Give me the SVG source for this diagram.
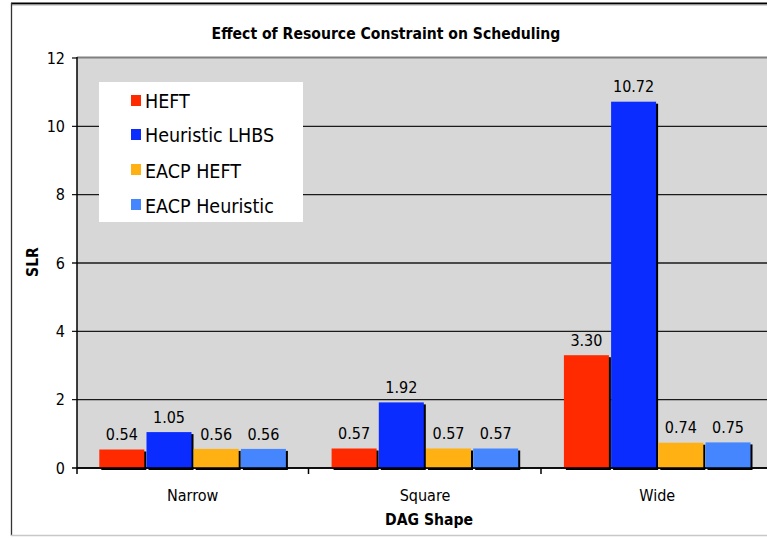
<svg xmlns="http://www.w3.org/2000/svg" width="767" height="538" viewBox="0 0 767 538">
<style>
text{font-family:"DejaVu Sans Condensed","DejaVu Sans",sans-serif;font-stretch:condensed;fill:#000}
.t{font-size:16px}
.v{font-size:16px;text-anchor:middle}
.b{font-weight:bold}
.lg{font-size:19.5px}
.grid{stroke:#1a1a1a;stroke-width:1.3}
.sh{fill:#000}
.r{fill:#ff2a00}.bl{fill:#0a2cff}.o{fill:#ffb012}.lb{fill:#4586ff}
</style>
<rect x="0" y="0" width="767" height="538" fill="#fff"/>
<!-- outer border -->
<line x1="11" y1="3.5" x2="767" y2="3.5" stroke="#000" stroke-width="2"/>
<line x1="11" y1="5" x2="767" y2="5" stroke="#aaa" stroke-width="1"/>
<line x1="11.5" y1="3" x2="11.5" y2="536" stroke="#333" stroke-width="1.3"/>
<line x1="11" y1="535.5" x2="767" y2="535.5" stroke="#c8c8c8" stroke-width="1.5"/>
<text class="b" x="386" y="39" font-size="15.6" text-anchor="middle">Effect of Resource Constraint on Scheduling</text>
<!-- plot area -->
<rect x="77" y="58" width="690" height="410" fill="#d7d7d7"/>
<line x1="77" y1="57.5" x2="767" y2="57.5" stroke="#808080" stroke-width="2"/>
<g id="gridlines">
<line class="grid" x1="72" y1="126.3" x2="767" y2="126.3"/>
<line class="grid" x1="72" y1="194.7" x2="767" y2="194.7"/>
<line class="grid" x1="72" y1="263" x2="767" y2="263"/>
<line class="grid" x1="72" y1="331.3" x2="767" y2="331.3"/>
<line class="grid" x1="72" y1="399.7" x2="767" y2="399.7"/>
<line class="grid" x1="72" y1="58" x2="77" y2="58"/>
</g>
<g id="axes">
<line x1="72" y1="468" x2="767" y2="468" stroke="#000" stroke-width="1.5"/>
<line x1="77" y1="57" x2="77" y2="474" stroke="#000" stroke-width="1.5"/>
<line x1="308.5" y1="468" x2="308.5" y2="474" stroke="#000" stroke-width="1.5"/>
<line x1="541" y1="468" x2="541" y2="474" stroke="#000" stroke-width="1.5"/>
</g>
<g id="ytick-labels" class="t" text-anchor="end">
<text x="65" y="64">12</text>
<text x="65" y="132">10</text>
<text x="65" y="200">8</text>
<text x="65" y="269">6</text>
<text x="65" y="337">4</text>
<text x="65" y="405">2</text>
<text x="65" y="474">0</text>
</g>
<text class="b" font-size="15.6" transform="translate(38,262) rotate(-90)" text-anchor="middle">SLR</text>
<g id="xtick-labels" class="t" text-anchor="middle">
<text x="192.7" y="501">Narrow</text>
<text x="425" y="501">Square</text>
<text x="657.3" y="501">Wide</text>
</g>
<text class="b" x="429" y="525" font-size="15.6" text-anchor="middle">DAG Shape</text>
<!-- bars -->
<g id="series-heft">
<rect class="sh" x="101.3" y="451.5" width="45" height="18.5"/><rect class="r" x="99.3" y="449.5" width="45" height="18.5"/>
<rect class="sh" x="333.6" y="450.5" width="45" height="19.5"/><rect class="r" x="331.6" y="448.5" width="45" height="19.5"/>
<rect class="sh" x="565.9" y="357.2" width="45" height="112.8"/><rect class="r" x="563.9" y="355.2" width="45" height="112.8"/>
</g>
<g id="series-lhbs">
<rect class="sh" x="148.5" y="434.1" width="45" height="35.9"/><rect class="bl" x="146.5" y="432.1" width="45" height="35.9"/>
<rect class="sh" x="380.8" y="404.4" width="45" height="65.6"/><rect class="bl" x="378.8" y="402.4" width="45" height="65.6"/>
<rect class="sh" x="613.1" y="103.7" width="45" height="366.3"/><rect class="bl" x="611.1" y="101.7" width="45" height="366.3"/>
</g>
<g id="series-eacp-heft">
<rect class="sh" x="195.7" y="450.9" width="45" height="19.1"/><rect class="o" x="193.7" y="448.9" width="45" height="19.1"/>
<rect class="sh" x="428" y="450.5" width="45" height="19.5"/><rect class="o" x="426" y="448.5" width="45" height="19.5"/>
<rect class="sh" x="660.3" y="444.7" width="45" height="25.3"/><rect class="o" x="658.3" y="442.7" width="45" height="25.3"/>
</g>
<g id="series-eacp-heuristic">
<rect class="sh" x="242.9" y="450.9" width="45" height="19.1"/><rect class="lb" x="240.9" y="448.9" width="45" height="19.1"/>
<rect class="sh" x="475.2" y="450.5" width="45" height="19.5"/><rect class="lb" x="473.2" y="448.5" width="45" height="19.5"/>
<rect class="sh" x="707.5" y="444.4" width="45" height="25.6"/><rect class="lb" x="705.5" y="442.4" width="45" height="25.6"/>
</g>
<line x1="77" y1="468" x2="767" y2="468" stroke="#000" stroke-width="1.5"/>
<g id="value-labels" class="v">
<text x="121.8" y="440">0.54</text>
<text x="169" y="423">1.05</text>
<text x="216.2" y="439.5">0.56</text>
<text x="263.4" y="439.5">0.56</text>
<text x="354.1" y="439">0.57</text>
<text x="401.3" y="393">1.92</text>
<text x="448.5" y="439">0.57</text>
<text x="495.7" y="439">0.57</text>
<text x="586.4" y="345.5">3.30</text>
<text x="633.6" y="92">10.72</text>
<text x="680.8" y="433">0.74</text>
<text x="728" y="432.5">0.75</text>
</g>
<g id="legend">
<rect x="99" y="82" width="204" height="140" fill="#fff"/>
<rect class="r" x="131" y="95" width="10" height="11"/>
<text class="lg" x="145" y="108">HEFT</text>
<rect class="bl" x="131" y="129" width="10" height="11"/>
<text class="lg" x="145" y="142">Heuristic LHBS</text>
<rect class="o" x="131" y="164" width="10" height="11"/>
<text class="lg" x="145" y="177.5">EACP HEFT</text>
<rect class="lb" x="131" y="199" width="10" height="11"/>
<text class="lg" x="145" y="212.5">EACP Heuristic</text>
</g>
</svg>
